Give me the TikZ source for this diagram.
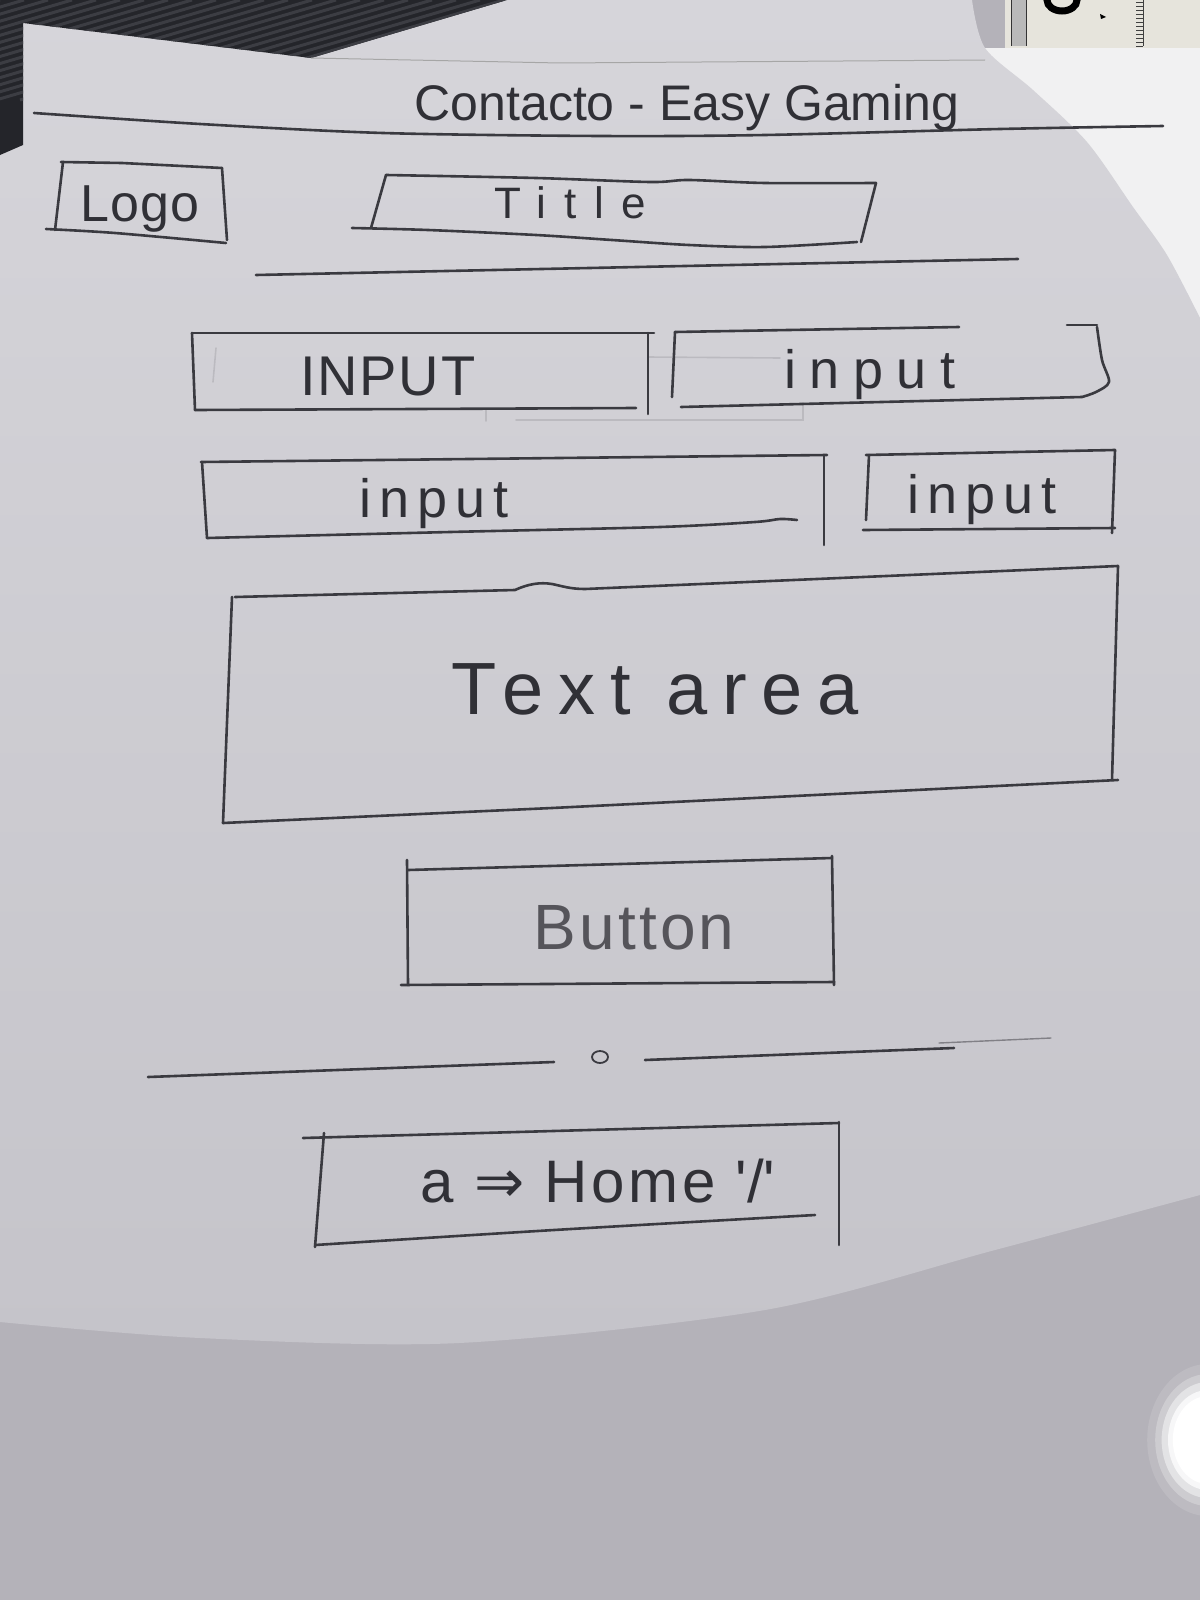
\documentclass[tikz,border=0pt]{standalone}
\usepackage{fontspec}
\setmainfont{Liberation Sans}
\newfontfamily\symfont{DejaVu Sans}
\definecolor{paperdim}{HTML}{B4B2B9}
\definecolor{paperhi}{HTML}{D6D5DA}
\definecolor{paperlo}{HTML}{C5C4CA}
\definecolor{sheetwhite}{HTML}{F1F1F2}
\definecolor{rulerc}{HTML}{E6E4DC}
\definecolor{tablec}{HTML}{24252A}
\definecolor{tablestripe}{HTML}{3C3D43}
\definecolor{pencilc}{HTML}{3A3A40}
\definecolor{inkc}{HTML}{303036}
\definecolor{softink}{HTML}{55545A}
\newcommand\handsize[2]{\fontsize{#1}{#1}\selectfont\addfontfeature{LetterSpace=#2}}
\begin{document}
\begin{tikzpicture}[x=1pt,y=-1pt,
  pencil/.style={draw=pencilc,line width=2.6pt,line cap=round,line join=round},
  erased/.style={draw=pencilc,line width=1.6pt,line cap=round,opacity=0.14},
  hand/.style={text=inkc,inner sep=0pt,anchor=base}]
\useasboundingbox (0,0) rectangle (1200,1600);

% paper, lighting and surroundings
\fill[paperdim] (0,0) rectangle (1200,1600);
\fill[sheetwhite] (960,48) rectangle (1200,460);
\shade[top color=paperhi,bottom color=paperlo]
  (0,0) -- (972,0)
  -- plot[smooth] coordinates {(972,0) (985,48) (1033,90) (1087,142) (1133,207) (1167,255) (1200,318)}
  -- (1200,1195)
  -- plot[smooth] coordinates {(1200,1195) (995,1250) (765,1310) (459,1343) (200,1338) (0,1322)}
  -- cycle;

% ruler at the top right
\fill[rulerc] (1005,0) rectangle (1200,48);
\fill[gray!55] (1011,0) rectangle (1026,46);
\draw[gray!40!black,line width=0.8pt] (1011,0) -- (1011,46) (1026,0) -- (1026,46);
\begin{scope}
  \clip (1005,0) rectangle (1200,48);
  \draw[black,line width=7pt] (1062,0) ellipse [x radius=15pt,y radius=11pt];
\end{scope}
\fill[black] (1100,14) -- (1106,17) -- (1101,19) -- cycle;
\draw[gray!50!black,line width=1pt] (1143,0) -- (1143,46);
\foreach \t in {2,6,...,46} \draw[gray!50!black,line width=0.8pt] (1136,\t) -- (1143,\t);

% dark table corner
\fill[tablec] (0,0) -- (507,0) -- (311,58) -- (23,23) -- (23,145) -- (0,155) -- cycle;
\begin{scope}
  \clip (0,0) -- (507,0) -- (311,58) -- (23,23) -- (23,145) -- (0,155) -- cycle;
  \foreach \s in {-340,-316,...,520}
    \draw[tablestripe,line width=3pt] (\s,100) -- ++(340,-100);
\end{scope}
\draw[gray!70,line width=1pt] (311,58) -- (560,63) -- (985,60);

% glare at the lower right edge
\foreach \r/\o in {76/0.12,66/0.25,58/0.45,50/0.75,44/1}
  \fill[white,opacity=\o] (1208,1440) ellipse [x radius={0.8*\r pt},y radius={\r pt}];

% traces of erased pencil
\draw[erased] (216,348) -- (213,382);
\draw[erased] (648,357) -- (780,358);
\draw[erased] (516,420) -- (803,420) -- (803,403);
\draw[erased] (486,410) -- (486,421);

% header
\draw[pencil] plot[smooth] coordinates {(34,113) (200,124) (383,133) (600,136) (765,135) (1000,129) (1163,126)};

% logo box
\draw[pencil] (61,162) -- (122,163) -- (222,168);
\draw[pencil] (63,162) -- (55,230);
\draw[pencil] plot[smooth] coordinates {(46,229) (115,233) (226,243)};
\draw[pencil] (222,168) -- (227,240);

% title box
\draw[pencil] plot[smooth] coordinates {(386,175) (536,178) (650,182) (689,180) (765,183) (876,183)};
\draw[pencil] (386,175) -- (371,228);
\draw[pencil] plot[smooth] coordinates {(352,228) (428,230) (536,235) (612,240) (689,245) (765,247) (857,242)};
\draw[pencil] (876,183) -- (861,242);

% rule under the title
\draw[pencil] (256,275) -- (1018,259);

% first row of inputs
\draw[pencil] (192,333) -- (654,333);
\draw[pencil] (192,333) -- (195,410);
\draw[pencil] (195,410) -- (636,408);
\draw[pencil] (648,333) -- (648,414);

\draw[pencil] (675,332) -- (959,327);
\draw[pencil] (1067,325) -- (1097,325);
\draw[pencil] (675,332) -- (672,397);
\draw[pencil] (681,407) -- (1082,397);
\draw[pencil] plot[smooth] coordinates {(1097,327) (1102,360) (1109,382) (1096,392) (1082,397)};

% second row of inputs
\draw[pencil] (201,462) -- (827,455);
\draw[pencil] (202,462) -- (207,538);
\draw[pencil] plot[smooth] coordinates {(207,538) (450,532) (660,527) (755,522) (780,519) (797,520)};
\draw[pencil] (824,455) -- (824,545);

\draw[pencil] (866,455) -- (1115,450);
\draw[pencil] (869,455) -- (866,520);
\draw[pencil] (863,530) -- (1115,528);
\draw[pencil] (1115,450) -- (1112,533);

% text area
\draw[pencil] (235,597) -- (515,590) .. controls (528,584) and (540,582) .. (552,584)
  .. controls (562,586) and (570,589) .. (585,589) -- (1118,566);
\draw[pencil] (232,597) -- (223,823);
\draw[pencil] (1118,566) -- (1112,780);
\draw[pencil] (223,823) -- (552,808) -- (1118,780);

% button
\draw[pencil] (408,870) -- (832,858);
\draw[pencil] (407,860) -- (408,985);
\draw[pencil] (832,856) -- (834,985);
\draw[pencil] (401,985) -- (834,982);

% footer rule with its mark
\draw[pencil] (148,1077) -- (554,1062);
\draw[pencil,line width=1.8pt] (600,1057) ellipse [x radius=8pt,y radius=6pt];
\draw[pencil] (645,1060) -- (954,1048);
\draw[pencil,line width=1.4pt,opacity=0.5] (939,1043) -- (1051,1038);

% footer link box
\draw[pencil] (303,1138) -- (839,1123);
\draw[pencil] (324,1133) -- (315,1247);
\draw[pencil] (839,1122) -- (839,1245);
\draw[pencil] plot[smooth] coordinates {(315,1245) (554,1230) (815,1215)};

% labels
\node[hand,font={\handsize{50}{0}}] (hdr) at (687,121) {Contacto - Easy Gaming};
\node[hand,font={\handsize{52}{2}}] (logo) at (140,221) {Logo};
\node[hand,font={\handsize{44}{40}}] (title) at (570,218) {Title};
\node[hand,font={\handsize{56}{3}}] (inA) at (388,395) {INPUT};
\node[hand,font={\handsize{54}{25}}] (inB) at (870,388) {input};
\node[hand,font={\handsize{54}{15}}] (inC) at (434,517) {input};
\node[hand,font={\handsize{54}{15}}] (inD) at (982,513) {input};
\node[hand,font={\handsize{74}{20}}] (ta) at (655,714) {Text area};
\node[hand,text=softink,font={\handsize{64}{5}}] (btn) at (634,949) {Button};
\node[hand,font={\handsize{60}{6}}] (home) at (598,1202) {a {\symfont ⇒} Home \textquotesingle/\textquotesingle};
\end{tikzpicture}
\end{document}
